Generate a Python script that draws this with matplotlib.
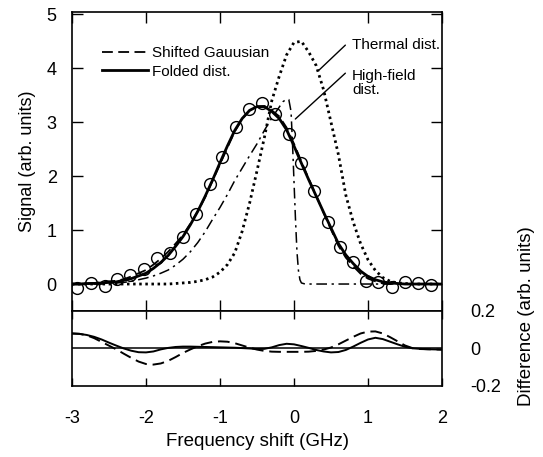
import numpy as np
import matplotlib
matplotlib.use("Agg")
import matplotlib.pyplot as plt

plt.rcParams['font.family'] = ['Liberation Sans', 'DejaVu Sans']
plt.rcParams['axes.unicode_minus'] = False

# common frequency grid of the read-off curves (GHz)
freq = [-3.0, -2.9, -2.8, -2.7, -2.6, -2.5, -2.4, -2.3, -2.2, -2.1,
        -2.0, -1.9, -1.8, -1.7, -1.6, -1.5, -1.4, -1.3, -1.2, -1.1,
        -1.0, -0.9, -0.8, -0.7, -0.6, -0.5, -0.4, -0.3, -0.2, -0.1,
        0.0, 0.1, 0.2, 0.3, 0.4, 0.5, 0.6, 0.7, 0.8, 0.9,
        1.0, 1.1, 1.2, 1.3, 1.4, 1.5, 1.6, 1.7, 1.8, 1.9, 2.0]

folded = [0.00, 0.00, 0.01, 0.01, 0.02, 0.03, 0.04, 0.07, 0.10, 0.15,
          0.20, 0.29, 0.40, 0.53, 0.70, 0.88, 1.10, 1.35, 1.63, 1.93,
          2.25, 2.56, 2.85, 3.07, 3.22, 3.29, 3.29, 3.20, 3.07, 2.86,
          2.56, 2.24, 1.93, 1.63, 1.33, 1.04, 0.75, 0.54, 0.38, 0.24,
          0.14, 0.08, 0.04, 0.02, 0.01, 0.00, 0.00, 0.00, 0.00, 0.00, 0.00]

shifted = [0.00, 0.00, 0.01, 0.02, 0.03, 0.05, 0.06, 0.09, 0.14, 0.20,
           0.26, 0.36, 0.47, 0.60, 0.75, 0.91, 1.12, 1.35, 1.61, 1.92,
           2.22, 2.53, 2.83, 3.06, 3.22, 3.29, 3.30, 3.22, 3.11, 2.90,
           2.60, 2.27, 1.95, 1.64, 1.32, 1.01, 0.71, 0.49, 0.33, 0.19,
           0.10, 0.05, 0.01, 0.00, 0.00, 0.00, 0.00, 0.00, 0.00, 0.00, 0.00]

thermal = [0.00, 0.00, 0.00, 0.00, 0.00, 0.00, 0.00, 0.00, 0.00, 0.00,
           0.00, 0.00, 0.00, 0.00, 0.01, 0.02, 0.03, 0.05, 0.08, 0.13,
           0.22, 0.36, 0.58, 0.98, 1.50, 2.10, 2.72, 3.40, 3.85, 4.25,
           4.48, 4.50, 4.30, 4.05, 3.60, 3.00, 2.40, 1.65, 1.15, 0.75,
           0.45, 0.25, 0.12, 0.05, 0.02, 0.01, 0.00, 0.00, 0.00, 0.00, 0.00]

# high-field distribution has its own, finer grid around the sharp edge
hf_freq = [-3.0, -2.8, -2.6, -2.5, -2.4, -2.3, -2.2, -2.1, -2.0, -1.9,
           -1.8, -1.7, -1.6, -1.5, -1.4, -1.3, -1.2, -1.1, -1.0, -0.9,
           -0.8, -0.7, -0.6, -0.5, -0.4, -0.3, -0.2, -0.15, -0.1, -0.07,
           -0.04, -0.02, 0.0, 0.02, 0.04, 0.06, 0.08, 0.1, 0.15, 0.5, 1.0, 1.5, 2.0]
high_field = [0.00, 0.00, 0.00, 0.01, 0.02, 0.03, 0.05, 0.08, 0.11, 0.15,
              0.20, 0.26, 0.35, 0.46, 0.60, 0.77, 0.97, 1.20, 1.42, 1.66,
              1.92, 2.15, 2.38, 2.60, 2.85, 3.08, 3.28, 3.38, 3.43, 3.42,
              3.20, 2.60, 1.90, 1.20, 0.60, 0.25, 0.08, 0.02, 0.00, 0.00, 0.00, 0.00, 0.00]

# measured points
data_x = [-2.93, -2.74, -2.56, -2.39, -2.21, -2.03, -1.85, -1.67, -1.50, -1.32,
          -1.14, -0.97, -0.79, -0.61, -0.43, -0.26, -0.07, 0.09, 0.27, 0.46,
          0.62, 0.80, 0.97, 1.14, 1.33, 1.50, 1.67, 1.85]
data_y = [-0.08, 0.01, -0.03, 0.09, 0.17, 0.28, 0.48, 0.57, 0.88, 1.30,
          1.85, 2.36, 2.91, 3.24, 3.35, 3.16, 2.78, 2.24, 1.72, 1.15,
          0.68, 0.40, 0.06, 0.04, -0.06, 0.03, 0.01, -0.02]

# differences (lower panel)
diff_shifted = [0.080, 0.078, 0.070, 0.055, 0.035, 0.015, -0.005, -0.028, -0.050, -0.070,
                -0.083, -0.086, -0.080, -0.066, -0.046, -0.024, -0.005, 0.012, 0.026, 0.035,
                0.038, 0.036, 0.028, 0.016, 0.004, -0.006, -0.013, -0.017, -0.018, -0.018,
                -0.018, -0.018, -0.017, -0.013, -0.006, 0.005, 0.022, 0.042, 0.062, 0.080,
                0.090, 0.091, 0.080, 0.060, 0.038, 0.016, 0.002, -0.003, -0.004, -0.005, -0.006]
diff_folded = [0.080, 0.078, 0.072, 0.062, 0.048, 0.031, 0.015, 0.000, -0.012, -0.020,
               -0.021, -0.016, -0.005, 0.003, 0.008, 0.010, 0.010, 0.009, 0.008, 0.007,
               0.006, 0.005, 0.004, 0.002, 0.000, -0.003, -0.002, 0.006, 0.018, 0.025,
               0.022, 0.013, 0.003, -0.008, -0.016, -0.021, -0.019, -0.008, 0.010, 0.030,
               0.048, 0.057, 0.050, 0.036, 0.022, 0.009, 0.001, -0.002, -0.004, -0.005, -0.006]

fig = plt.figure(figsize=(5.43, 4.57), dpi=100)
ax = fig.add_axes([0.1326, 0.3195, 0.6814, 0.6549])
ax2 = fig.add_axes([0.1326, 0.1555, 0.6814, 0.1640], sharex=ax)

dash = (0, (6, 3))
ax.plot(freq, thermal, color='black', lw=2.0, linestyle=(0, (0.9, 1.3)))
ax.plot(hf_freq, high_field, color='black', lw=1.1, linestyle=(0, (7, 3, 1.5, 3)))
ax.plot(freq, shifted, color='black', lw=1.3, linestyle=dash, label='Shifted Gauusian')
ax.plot(freq, folded, color='black', lw=2.0, label='Folded dist.')
ax.plot(data_x, data_y, 'o', mfc='none', mec='black', ms=8.5, mew=1.0)

ax.set_xlim(-3, 2)
ax.set_ylim(-0.5, 5.05)
ax.set_yticks([0, 1, 2, 3, 4, 5])
ax.set_xticks([-3, -2, -1, 0, 1, 2])
ax.tick_params(direction='in', top=True, right=True, length=8, width=1.0,
               labelsize=13, pad=11, labelbottom=False)
ax.set_ylabel('Signal (arb. units)', fontsize=13)
ax.yaxis.set_label_coords(-0.096, 0.5)

leg = ax.legend(loc='upper left', bbox_to_anchor=(0.081, 0.885), frameon=False,
                fontsize=11, handlelength=3.0, handletextpad=0.25,
                labelspacing=0.3, borderpad=0, borderaxespad=0)

ax.annotate('', xy=(0.333, 3.96), xytext=(0.694, 4.43),
            arrowprops=dict(arrowstyle='-', lw=1.0, color='black', shrinkA=0, shrinkB=0))
ax.annotate('', xy=(0.018, 3.06), xytext=(0.694, 3.91),
            arrowprops=dict(arrowstyle='-', lw=1.0, color='black', shrinkA=0, shrinkB=0))
ax.text(0.784, 4.44, 'Thermal dist.', fontsize=11, va='center', ha='left')
ax.text(0.784, 3.73, 'High-field\ndist.', fontsize=11, va='center', ha='left',
        linespacing=1.05)

ax2.axhline(0, color='black', lw=1.1)
ax2.plot(freq, diff_shifted, color='black', lw=1.4, linestyle=(0, (6, 3)))
ax2.plot(freq, diff_folded, color='black', lw=1.4)
ax2.set_ylim(-0.2, 0.2)
ax2.set_yticks([-0.2, 0, 0.2])
ax2.set_yticklabels(['-0.2', '0', '0.2'])
ax2.yaxis.tick_right()
ax2.yaxis.set_label_position('right')
ax2.tick_params(axis='y', length=0, labelsize=13, pad=20)
ax2.tick_params(axis='x', direction='in', top=True, length=5.5, width=1.0,
                labelsize=13, pad=17)
ax2.set_xlabel('Frequency shift (GHz)', fontsize=13.5, labelpad=5)
ax2.set_ylabel('Difference (arb. units)', fontsize=13.5)
ax2.yaxis.set_label_coords(1.205, 0.93)

for a in (ax, ax2):
    for s in a.spines.values():
        s.set_linewidth(1.2)

fig.savefig('out.png', dpi=100)
